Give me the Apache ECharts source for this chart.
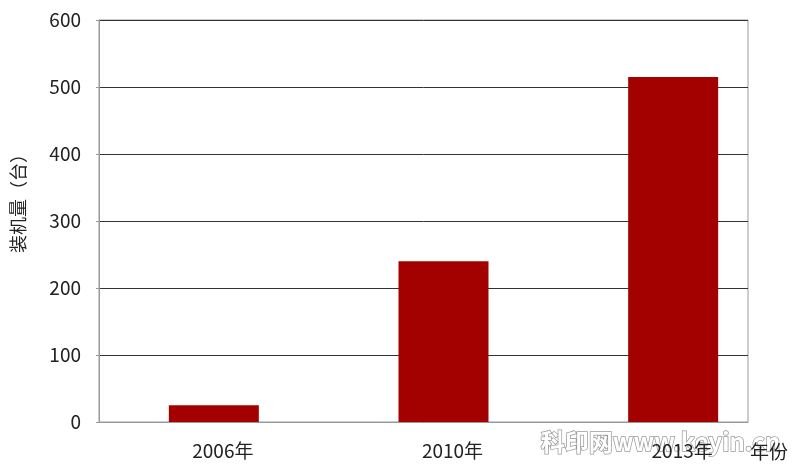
<!DOCTYPE html>
<html>
<head>
<meta charset="utf-8">
<script src="https://cdn.jsdelivr.net/npm/echarts@6/dist/echarts.min.js"></script>
<style>html,body{margin:0;padding:0;background:#fff;}#c{width:800px;height:472px;}</style>
</head>
<body>
<div id="c"></div>
<script>
const categories = ['2006年', '2010年', '2013年'];
const installs = [25, 240, 515];
const yTicks = [0, 100, 200, 300, 400, 500, 600];
const yName = '装机量（台）';
const xName = '年份';
const watermark = '科印网www.keyin.cn';

const FONT = '"Noto Sans CJK SC", "Noto Sans", sans-serif';
const chart = echarts.init(document.getElementById('c'), null, {renderer: 'canvas'});
chart.setOption({
  animation: false,
  backgroundColor: '#fff',
  textStyle: {fontFamily: FONT},
  grid: [
    {left: 99, right: 12, top: 20, bottom: 50},
    {left: 99, right: 52, top: 20, bottom: 50, show: true, borderColor: '#999', borderWidth: 1, backgroundColor: 'transparent'}
  ],
  xAxis: [
    {
      type: 'category', gridIndex: 0, data: categories, z: 5,
      axisLine: {show: false}, axisTick: {show: false}, splitLine: {show: false},
      axisLabel: {margin: 19, color: '#222', fontSize: 19, fontFamily: FONT, padding: [0, 0, 0, 18]}
    },
    {
      type: 'value', gridIndex: 1, min: 0, max: 1, z: 5,
      axisLine: {show: true, lineStyle: {color: '#999', width: 1}},
      axisTick: {show: false}, axisLabel: {show: false}, splitLine: {show: false},
      name: xName, nameLocation: 'end', nameGap: 2,
      nameTextStyle: {color: '#222', fontSize: 19, fontFamily: FONT, verticalAlign: 'top', align: 'left', padding: [20, 0, 0, 0]}
    }
  ],
  yAxis: [
    {type: 'value', gridIndex: 0, min: yTicks[0], max: yTicks[yTicks.length - 1], interval: 100, show: false},
    {
      type: 'value', gridIndex: 1, min: yTicks[0], max: yTicks[yTicks.length - 1], interval: 100,
      axisLine: {show: true, lineStyle: {color: '#999', width: 1}},
      axisTick: {show: true, length: 3, lineStyle: {color: '#999'}},
      axisLabel: {margin: 18, color: '#222', fontSize: 19, fontFamily: FONT},
      splitLine: {show: true, lineStyle: {color: '#333', width: 1}},
      name: yName, nameLocation: 'middle', nameGap: 72, nameRotate: 90,
      nameTextStyle: {color: '#222', fontSize: 18, fontFamily: FONT, padding: [0, 0, 0, 44]}
    }
  ],
  graphic: [{
    type: 'text', left: 540, top: 429, z: -1,
    style: {
      text: watermark, fill: '#ffffff', fontSize: 24, fontWeight: 'bold', fontFamily: FONT,
      stroke: '#9a9a9a', lineWidth: 1.5,
      shadowColor: 'rgba(0,0,0,0.5)', shadowBlur: 4, shadowOffsetX: 1, shadowOffsetY: 1
    }
  }],
  series: [{
    type: 'bar', xAxisIndex: 0, yAxisIndex: 0, data: installs,
    barWidth: 90, itemStyle: {color: '#a30000'}, z: 3
  }]
});
</script>
</body>
</html>
